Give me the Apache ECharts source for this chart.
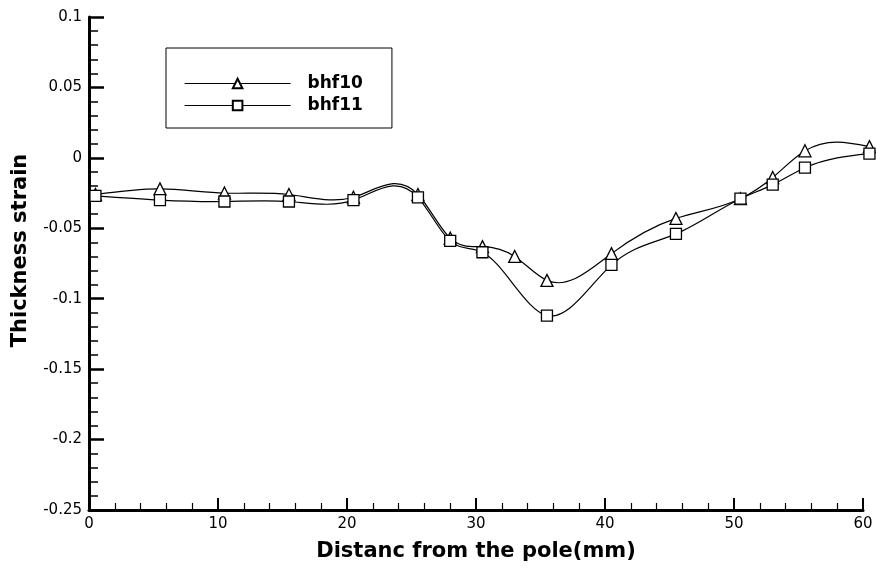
<!DOCTYPE html>
<html>
<head>
<meta charset="utf-8">
<script src="https://cdn.jsdelivr.net/npm/echarts@6/dist/echarts.min.js"></script>
<style>
  html, body { margin: 0; padding: 0; background: #fff; }
  #chart { width: 876px; height: 570px; }
</style>
</head>
<body>
<div id="chart"></div>
<script>
// Thickness strain along the meridian, two blank-holder-force cases
var xBhf10 = [0.5, 5.5, 10.5, 15.5, 20.5, 25.5, 28, 30.5, 33, 35.5, 40.5, 45.5, 50.5, 53, 55.5, 60.5];
var bhf10  = [-0.026, -0.022, -0.025, -0.026, -0.028, -0.026, -0.057, -0.063, -0.070, -0.087, -0.068, -0.043, -0.029, -0.014, 0.005, 0.008];

var xBhf11 = [0.5, 5.5, 10.5, 15.5, 20.5, 25.5, 28, 30.5, 35.5, 40.5, 45.5, 50.5, 53, 55.5, 60.5];
var bhf11  = [-0.027, -0.030, -0.031, -0.031, -0.030, -0.028, -0.059, -0.067, -0.112, -0.076, -0.054, -0.029, -0.019, -0.007, 0.003];

var seriesNames = ['bhf10', 'bhf11'];
var xTitle = 'Distanc from the pole(mm)';
var yTitle = 'Thickness strain';

function pairs(xs, ys) {
  return xs.map(function (x, i) { return [x, ys[i]]; });
}

// Knot slopes of a natural cubic spline y(x) through the data
function splineSlopes(xs, ys) {
  var n = xs.length, h = [], i;
  for (i = 0; i < n - 1; i++) h.push(xs[i + 1] - xs[i]);
  var a = new Array(n).fill(0), b = new Array(n).fill(1), c = new Array(n).fill(0), d = new Array(n).fill(0);
  for (i = 1; i < n - 1; i++) {
    a[i] = h[i - 1];
    b[i] = 2 * (h[i - 1] + h[i]);
    c[i] = h[i];
    d[i] = 6 * ((ys[i + 1] - ys[i]) / h[i] - (ys[i] - ys[i - 1]) / h[i - 1]);
  }
  // Thomas algorithm
  for (i = 1; i < n; i++) {
    var w = a[i] / b[i - 1];
    b[i] -= w * c[i - 1];
    d[i] -= w * d[i - 1];
  }
  var M = new Array(n);
  M[n - 1] = d[n - 1] / b[n - 1];
  for (i = n - 2; i >= 0; i--) M[i] = (d[i] - c[i] * M[i + 1]) / b[i];
  var m = [];
  for (i = 0; i < n - 1; i++) {
    m.push((ys[i + 1] - ys[i]) / h[i] - h[i] * (2 * M[i] + M[i + 1]) / 6);
  }
  var k = n - 2;
  m.push((ys[n - 1] - ys[k]) / h[k] + h[k] * (M[k] + 2 * M[n - 1]) / 6);
  return m;
}

// Custom series: each segment of the spline drawn as a cubic Bezier through the axis scales
function curveSeries(xs, ys) {
  var slopes = splineSlopes(xs, ys);
  return {
    type: 'custom',
    data: pairs(xs, ys),
    encode: { x: 0, y: 1 },
    clip: false,
    silent: true,
    z: 2,
    renderItem: function (params, api) {
      var i = params.dataIndex;
      if (i >= xs.length - 1) return null;
      var hh = (xs[i + 1] - xs[i]) / 3;
      var p0 = api.coord([xs[i], ys[i]]);
      var p1 = api.coord([xs[i] + hh, ys[i] + slopes[i] * hh]);
      var p2 = api.coord([xs[i + 1] - hh, ys[i + 1] - slopes[i + 1] * hh]);
      var p3 = api.coord([xs[i + 1], ys[i + 1]]);
      return {
        type: 'bezierCurve',
        shape: { x1: p0[0], y1: p0[1], cpx1: p1[0], cpy1: p1[1], cpx2: p2[0], cpy2: p2[1], x2: p3[0], y2: p3[1] },
        style: { stroke: '#000', fill: null, lineWidth: 1.2 }
      };
    }
  };
}

function markerSeries(name, xs, ys, symbol, size) {
  return {
    name: name,
    type: 'line',
    data: pairs(xs, ys),
    clip: false,
    symbol: symbol,
    symbolSize: size,
    showAllSymbol: true,
    lineStyle: { color: '#000', width: 1.2, opacity: 0 },
    itemStyle: { color: '#fff', borderColor: '#000', borderWidth: 1.3 },
    emphasis: { disabled: true },
    z: 3
  };
}

var FONT = 'DejaVu Sans';

var chart = echarts.init(document.getElementById('chart'), null, { renderer: 'canvas' });

chart.setOption({
  animation: false,
  backgroundColor: '#fff',
  grid: { left: 89, right: 13, top: 17, bottom: 60, containLabel: false },
  legend: {
    left: 166,
    top: 48,
    orient: 'vertical',
    data: seriesNames,
    itemWidth: 106,
    itemHeight: 12,
    itemGap: 5,
    padding: [27, 29, 14, 18],
    borderColor: '#000',
    borderWidth: 1,
    backgroundColor: '#fff',
    lineStyle: { color: '#000', width: 1.2, opacity: 1 },
    textStyle: {
      fontFamily: FONT, fontWeight: 'bold', fontSize: 17, color: '#000',
      padding: [0, 0, 0, 12]
    }
  },
  xAxis: {
    type: 'value',
    min: 0,
    max: 60,
    interval: 10,
    name: xTitle,
    nameLocation: 'middle',
    nameGap: 31,
    nameTextStyle: { fontFamily: FONT, fontWeight: 'bold', fontSize: 21, color: '#000' },
    axisLine: { onZero: false, lineStyle: { color: '#000', width: 3 } },
    axisTick: { inside: true, length: 12, lineStyle: { color: '#000', width: 2 } },
    minorTick: { show: true, splitNumber: 5, length: 7, lineStyle: { color: '#000', width: 1.2 } },
    axisLabel: { fontFamily: FONT, fontSize: 15, color: '#000', margin: 7 },
    splitLine: { show: false }
  },
  yAxis: {
    type: 'value',
    min: -0.25,
    max: 0.1,
    interval: 0.05,
    name: yTitle,
    nameLocation: 'middle',
    nameGap: 58,
    nameRotate: 90,
    nameTextStyle: {
      fontFamily: FONT, fontWeight: 'bold', fontSize: 21, color: '#000',
      padding: [0, 0, 0, 26]
    },
    axisLine: { onZero: false, lineStyle: { color: '#000', width: 3 } },
    axisTick: { inside: true, length: 15, lineStyle: { color: '#000', width: 2.5 } },
    minorTick: { show: true, splitNumber: 5, length: 9, lineStyle: { color: '#000', width: 1.5 } },
    axisLabel: { fontFamily: FONT, fontSize: 15, color: '#000', margin: 7 },
    splitLine: { show: false }
  },
  series: [
    markerSeries(seriesNames[0], xBhf10, bhf10, 'triangle', 12),
    markerSeries(seriesNames[1], xBhf11, bhf11, 'rect', 11),
    curveSeries(xBhf10, bhf10),
    curveSeries(xBhf11, bhf11)
  ]
});
</script>
</body>
</html>
